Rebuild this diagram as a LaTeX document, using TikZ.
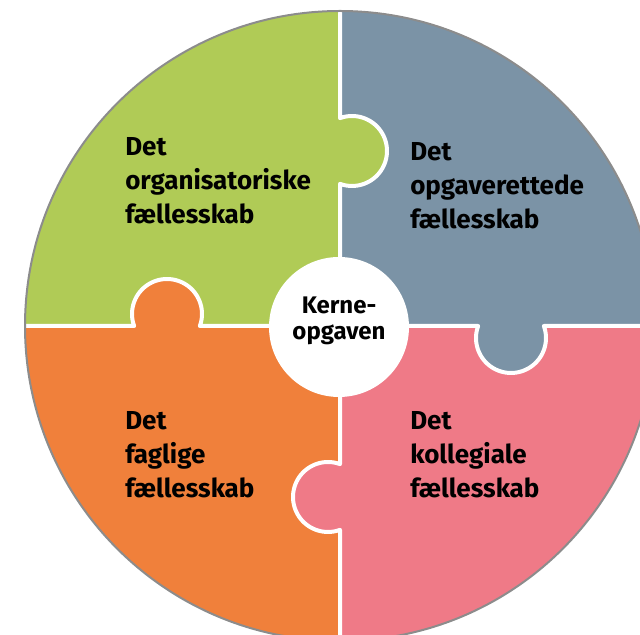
\documentclass[tikz,border=0pt]{standalone}
\usepackage{fontspec}
\setmainfont{Fira Sans}
\definecolor{pgreen}{HTML}{B0CB56}
\definecolor{pblue}{HTML}{7B93A6}
\definecolor{porange}{HTML}{F0803B}
\definecolor{ppink}{HTML}{EF7A87}
\definecolor{pborder}{HTML}{8C8C8C}
\tikzset{
  sep/.style={draw=white, line width=3pt, line join=round},
  lbl/.style={anchor=north west, inner sep=0pt, align=left, text=black,
    font=\fontsize{19.5pt}{25.5pt}\selectfont\bfseries},
  core/.style={anchor=north, inner sep=0pt, align=center, text=black,
    font=\fontsize{18pt}{19.5pt}\selectfont\bfseries}
}
\begin{document}
\begin{tikzpicture}[x=0.75pt, y=0.75pt]
\useasboundingbox (0,0) rectangle (640,635);
\clip (0,0) rectangle (640,635);
\coordinate (c) at (340,309);
\coordinate (t1) at (352,484);
\coordinate (t2) at (167,321);
\coordinate (t3) at (511,297);
\coordinate (t4) at (328,138);
% quadrants
\begin{scope}
  \clip (c) circle[radius=315];
  \fill[pgreen]  (25,309) rectangle (340,624);
  \fill[pblue]   (340,309) rectangle (655,624);
  \fill[porange] (25,-6) rectangle (340,309);
  \fill[ppink]   (340,-6) rectangle (655,309);
\end{scope}
% tabs
\fill[pgreen]  (t1) circle[radius=35];
\fill[porange] (t2) circle[radius=35];
\fill[pblue]   (t3) circle[radius=35];
\fill[ppink]   (t4) circle[radius=35];
% separators
\draw[sep] (340,624) -- (340,516.88) arc[start angle=110.06, end angle=-110.06, radius=35] -- (c);
\draw[sep] (c) -- (199.88,309) arc[start angle=-20.06, end angle=200.06, radius=35] -- (25,309);
\draw[sep] (c) -- (478.12,309) arc[start angle=159.94, end angle=380.06, radius=35] -- (655,309);
\draw[sep] (c) -- (340,170.88) arc[start angle=69.94, end angle=290.06, radius=35] -- (340,-6);
% outer border
\draw[pborder, line width=1.5pt] (c) circle[radius=315];
% centre
\node[circle, fill=white, minimum size=105pt, inner sep=0pt] (hub) at (339,308) {};
\node[core] (kerne) at (339,338) {Kerne-\\opgaven};
% labels
\node[lbl] (org) at (125,498) {Det\\organisatoriske\\fællesskab};
\node[lbl] (opg) at (410,493) {Det\\opgaverettede\\fællesskab};
\node[lbl] (fag) at (125,224) {Det\\faglige\\fællesskab};
\node[lbl] (kol) at (410,224) {Det\\kollegiale\\fællesskab};
\end{tikzpicture}
\end{document}
